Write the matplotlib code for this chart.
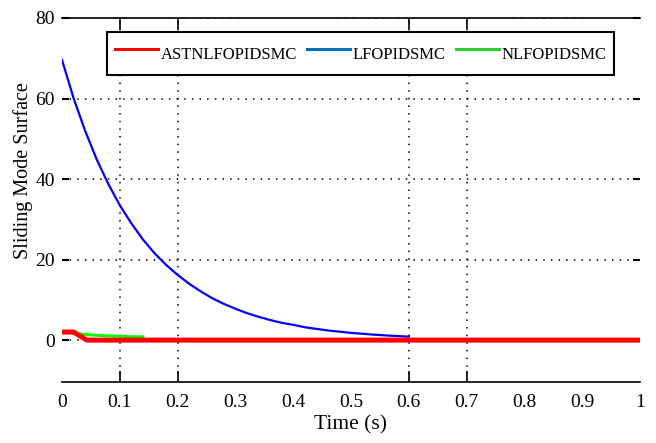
import matplotlib
matplotlib.use("Agg")
import matplotlib.pyplot as plt
from matplotlib.lines import Line2D

# values
t_lf = [0, 0.02, 0.04, 0.06, 0.08, 0.10, 0.12, 0.14, 0.16, 0.18, 0.20,
        0.22, 0.24, 0.26, 0.28, 0.30, 0.32, 0.34, 0.36, 0.38, 0.40,
        0.42, 0.44, 0.46, 0.48, 0.50, 0.52, 0.54, 0.56, 0.58, 0.60]
s_lf = [69.6, 60.1, 52.0, 44.9, 38.8, 33.5, 29.0, 25.0, 21.6, 18.7, 16.2,
        14.0, 12.1, 10.4, 9.0, 7.8, 6.7, 5.8, 5.0, 4.3, 3.8,
        3.2, 2.8, 2.4, 2.1, 1.8, 1.57, 1.35, 1.17, 1.01, 0.87]
t_nl = [0, 0.01, 0.02, 0.04, 0.06, 0.08, 0.10, 0.12, 0.14]
s_nl = [2.0, 2.0, 1.7, 1.4, 1.2, 1.05, 0.95, 0.85, 0.8]
t_ast = [0, 0.02, 0.043, 1.0]
s_ast = [2.0, 2.0, 0.0, 0.0]

names = ["ASTNLFOPIDSMC", "LFOPIDSMC", "NLFOPIDSMC"]
xticks = [0, 0.1, 0.2, 0.3, 0.4, 0.5, 0.6, 0.7, 0.8, 0.9, 1]
xtick_labels = ["0", "0.1", "0.2", "0.3", "0.4", "0.5", "0.6", "0.7", "0.8", "0.9", "1"]
xmarks = [0.1, 0.2, 0.6, 0.7]
yticks = [0, 20, 40, 60, 80]

serif = ["Liberation Serif", "DejaVu Serif"]

fig = plt.figure(figsize=(6.56, 4.43), dpi=100)
ax = fig.add_axes([0.0945, 0.1377, 0.881, 0.8217])

ax.plot(t_lf, s_lf, color="#0000ff", lw=1.6, zorder=3)
ax.plot(t_nl, s_nl, color="#00ff00", lw=2.2, zorder=4)
ax.plot(t_ast, s_ast, color="#ff0000", lw=3.6, zorder=5)

ax.set_xlim(0, 1)
ax.set_ylim(-10.4, 80)

for side in ["left", "right"]:
    ax.spines[side].set_visible(False)
for side in ["top", "bottom"]:
    ax.spines[side].set_linewidth(1.2)

ax.xaxis.remove_overlapping_locs = False
ax.set_xticks(xticks)
ax.set_xticklabels(xtick_labels, family=serif, fontsize=14)
ax.set_xticks(xmarks, minor=True)
ax.tick_params(axis="x", which="major", length=0, pad=9)
ax.tick_params(axis="x", which="minor", length=8, width=1.2, direction="in",
               top=True, bottom=True)
ax.set_yticks(yticks)
ax.set_yticklabels([str(v) for v in yticks], family=serif, fontsize=14)
ax.tick_params(axis="y", which="major", length=5, width=1.5, direction="in",
               left=True, right=True, pad=5)

ax.grid(True, axis="x", which="minor", color="black", linestyle=(0, (1, 4)), lw=1.1)
ax.grid(True, axis="y", which="major", color="black", linestyle=(0, (1, 4)), lw=1.1)

ax.set_xlabel("Time (s)", family=serif, fontsize=15.5, labelpad=3)
ax.set_ylabel("Sliding Mode Surface", family=serif, fontsize=14.5)
ax.yaxis.set_label_coords(-0.05, 0.582)

handles = [Line2D([], [], color="#ff0000", lw=2.2),
           Line2D([], [], color="#0072bd", lw=2.2),
           Line2D([], [], color="#33cc33", lw=2.2)]
leg = ax.legend(handles, names, loc="upper left", bbox_to_anchor=(0.078, 0.9615),
                ncol=3, frameon=True, fancybox=False, framealpha=1,
                edgecolor="black", prop={"family": serif, "size": 12},
                handlelength=2.6, handleheight=2.2, handletextpad=0.15,
                columnspacing=0.6, borderpad=0.45, borderaxespad=0)
leg.get_frame().set_linewidth(1.5)
leg.set_zorder(6)

fig.savefig("out.png", dpi=100)
